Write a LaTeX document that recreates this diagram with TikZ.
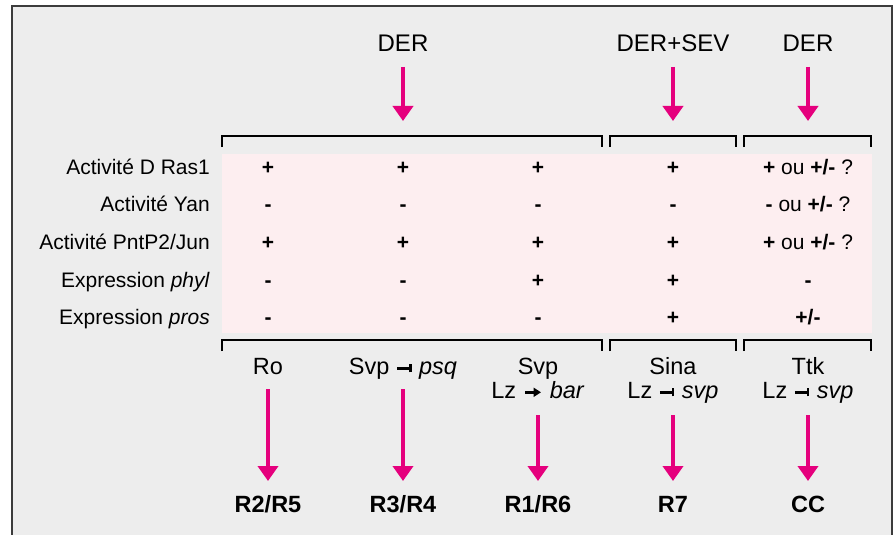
\documentclass[tikz,border=0pt]{standalone}
\usepackage{fontspec}
\setmainfont{Liberation Sans}
\usetikzlibrary{arrows.meta}
\definecolor{bggray}{HTML}{EDEDED}
\definecolor{bandpink}{HTML}{FDEEF0}
\definecolor{mag}{HTML}{E5007D}
\definecolor{framecol}{HTML}{3C3C3C}
\newcommand{\inh}{\hspace{1pt}\rule[4.4pt]{12pt}{2.6pt}\rule[1.6pt]{2.6pt}{8.4pt}\hspace{1pt}}
\newcommand{\act}{\hspace{1pt}\tikz[baseline=0pt,x=1pt,y=1pt]\draw[line width=2.6pt,-{Triangle[width=9pt,length=7.5pt]}] (0,5.7) -- (16,5.7);\hspace{1pt}}
\begin{document}
\begin{tikzpicture}[x=1pt,y=-1pt,
  lbl/.style={anchor=base east, inner sep=0pt, font=\fontsize{21}{25}\selectfont},
  cell/.style={anchor=base, inner sep=0pt, font=\fontsize{21}{25}\selectfont},
  head/.style={anchor=base, inner sep=0pt, font=\fontsize{24}{28}\selectfont},
  gene/.style={anchor=base, inner sep=0pt, font=\fontsize{23.5}{28}\selectfont},
  res/.style={anchor=base, inner sep=0pt, font=\fontsize{23.5}{28}\selectfont\bfseries},
  arr/.style={draw=mag, line width=4pt, -{Triangle[width=20pt,length=15pt]}},
  brk/.style={line width=1.4pt, draw=black},
  frame/.style={line width=2pt, draw=framecol}]
\useasboundingbox (0,0) rectangle (895,535);
\fill[white] (0,0) rectangle (895,535);
\fill[bggray] (12,6) rectangle (892,540);
\draw[frame] (12,540) -- (12,6) -- (892,6) -- (892,540);
\fill[bandpink] (222,154) rectangle (872,333);

% brackets
\foreach \a/\b in {222/602, 610/736, 744/871}{
  \draw[brk] (\a,147) -- (\a,136) -- (\b,136) -- (\b,147);
  \draw[brk] (\a,351) -- (\a,340) -- (\b,340) -- (\b,351);
}

% top labels
\node[head] (top2) at (403,52) {DER};
\node[head] (top4) at (673,52) {DER+SEV};
\node[head] (top5) at (808,52) {DER};
\coordinate (t2a) at (403,67); \coordinate (t2b) at (403,121);
\coordinate (t4a) at (673,67); \coordinate (t4b) at (673,121);
\coordinate (t5a) at (808,67); \coordinate (t5b) at (808,121);
\draw[arr] (t2a) -- (t2b);
\draw[arr] (t4a) -- (t4b);
\draw[arr] (t5a) -- (t5b);

% row labels
\node[lbl] (r1) at (210,174) {Activité D Ras1};
\node[lbl] (r2) at (210,211.5) {Activité Yan};
\node[lbl] (r3) at (210,249) {Activité PntP2/Jun};
\node[lbl] (r4) at (210,287) {Expression \textit{phyl}};
\node[lbl] (r5) at (210,324) {Expression \textit{pros}};

% cells
\foreach \x/\c in {268/1,403/2,538/3,673/4}{
  \node[cell] (c\c-1) at (\x,174) {\textbf{+}};
  \node[cell] (c\c-2) at (\x,211.5) {\textbf{-}};
  \node[cell] (c\c-3) at (\x,249) {\textbf{+}};
}
\node[cell] (c1-4) at (268,287) {\textbf{-}};
\node[cell] (c2-4) at (403,287) {\textbf{-}};
\node[cell] (c3-4) at (538,287) {\textbf{+}};
\node[cell] (c4-4) at (673,287) {\textbf{+}};
\node[cell] (c1-5) at (268,324) {\textbf{-}};
\node[cell] (c2-5) at (403,324) {\textbf{-}};
\node[cell] (c3-5) at (538,324) {\textbf{-}};
\node[cell] (c4-5) at (673,324) {\textbf{+}};
\node[cell] (c5-1) at (808,174) {\textbf{+} ou \textbf{+/-} ?};
\node[cell] (c5-2) at (808,211.5) {\textbf{-} ou \textbf{+/-} ?};
\node[cell] (c5-3) at (808,249) {\textbf{+} ou \textbf{+/-} ?};
\node[cell] (c5-4) at (808,287) {\textbf{-}};
\node[cell] (c5-5) at (808,324) {\textbf{+/-}};

% bottom gene labels
\node[gene] (g1) at (268,374) {Ro};
\node[gene] (g2) at (403,374) {Svp \inh\ \textit{psq}};
\node[gene] (g3) at (538,374) {Svp};
\node[gene] (g3b) at (538,398) {Lz \act\ \textit{bar}};
\node[gene] (g4) at (673,374) {Sina};
\node[gene] (g4b) at (673,398) {Lz \inh\ \textit{svp}};
\node[gene] (g5) at (808,374) {Ttk};
\node[gene] (g5b) at (808,398) {Lz \inh\ \textit{svp}};

% results
\node[res] (o1) at (268,512) {R2/R5};
\node[res] (o2) at (403,512) {R3/R4};
\node[res] (o3) at (538,512) {R1/R6};
\node[res] (o4) at (673,512) {R7};
\node[res] (o5) at (808,512) {CC};

\coordinate (b1a) at (268,389); \coordinate (b1b) at (268,481);
\coordinate (b2a) at (403,389); \coordinate (b2b) at (403,481);
\coordinate (b3a) at (538,415); \coordinate (b3b) at (538,481);
\coordinate (b4a) at (673,415); \coordinate (b4b) at (673,481);
\coordinate (b5a) at (808,415); \coordinate (b5b) at (808,481);
\foreach \i in {1,...,5}{\draw[arr] (b\i a) -- (b\i b);}
\end{tikzpicture}
\end{document}
